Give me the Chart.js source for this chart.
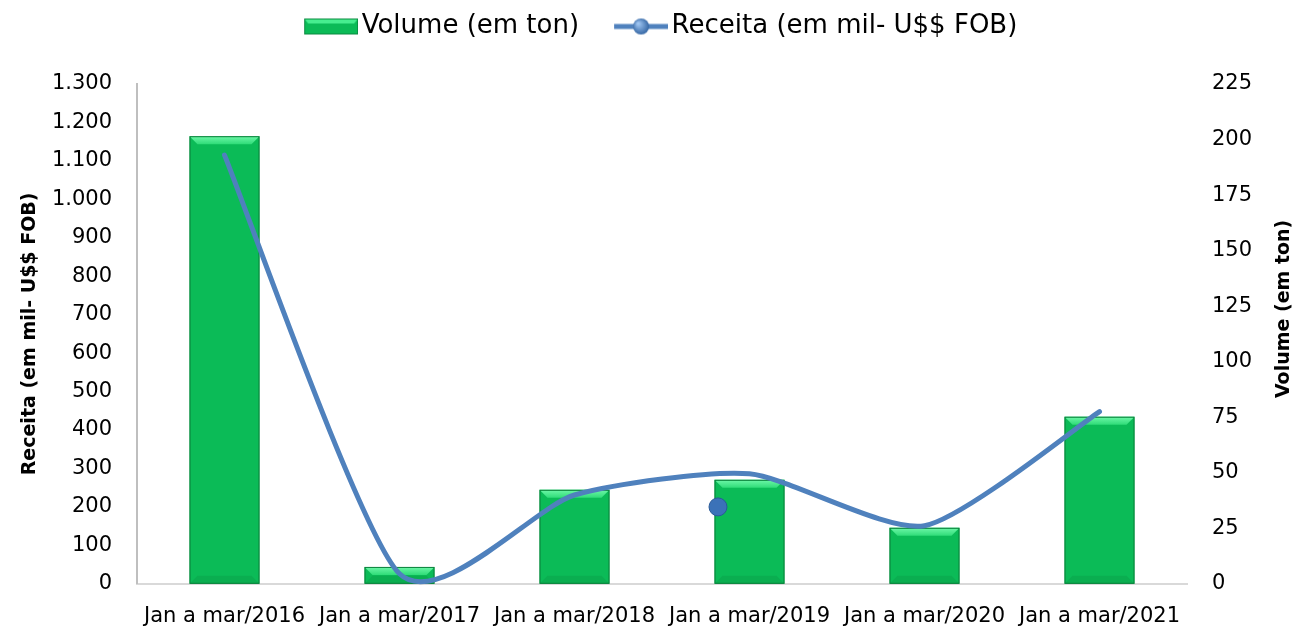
<!DOCTYPE html>
<html lang="pt-BR">
  <head>
    <meta charset="UTF-8" />
    <script src="https://cdn.jsdelivr.net/npm/chart.js"></script>
    <title>Volume e Receita - Jan a mar</title>
    <style>
      html,
      body {
        margin: 0;
        padding: 0;
        background: #ffffff;
      }
      .chart-container {
        width: 1298px;
        height: 627px;
      }
    </style>
  </head>
  <body>
    <div class="chart-container">
      <canvas id="volumeReceitaChart"></canvas>
    </div>

    <script>
      const categories = [
        "Jan a mar/2016",
        "Jan a mar/2017",
        "Jan a mar/2018",
        "Jan a mar/2019",
        "Jan a mar/2020",
        "Jan a mar/2021",
      ];
      const volumeTon = [201.5, 7.6, 42.3, 46.8, 25.2, 75.2];
      const receitaMil = [1115, 26, 231, 286, 151, 448];
      // the lone marker Excel left near the 2019 point (x = category index)
      const receitaMarker = [{ x: 2.82, y: 200 }];
      const receitaTicks = [0, 1300, 100];
      const volumeTicks = [0, 225, 25];
      const volumeTitle = "Volume (em ton)";

      const FONT = "'DejaVu Sans', sans-serif";
      const GREEN = "#0bbb57";
      const GREEN_LIGHT = "#46ee8f";
      const BLUE = "#4f81bd";

      // legend icon drawn on a small canvas, shifted right so the gap
      // between icon and text stays small like in excel
      function legendIcon(kind) {
        const c = document.createElement("canvas");
        c.width = 87;
        c.height = 22;
        const g = c.getContext("2d");
        const x0 = 33;
        if (kind === "bar") {
          g.fillStyle = GREEN;
          g.fillRect(x0, 3, 54, 16);
          g.fillStyle = GREEN_LIGHT;
          g.beginPath();
          g.moveTo(x0, 3);
          g.lineTo(x0 + 54, 3);
          g.lineTo(x0 + 50, 8);
          g.lineTo(x0 + 4, 8);
          g.closePath();
          g.fill();
          g.strokeStyle = "#0a8a40";
          g.lineWidth = 1;
          g.strokeRect(x0 + 0.5, 3.5, 53, 15);
        } else {
          g.strokeStyle = BLUE;
          g.lineWidth = 5;
          g.beginPath();
          g.moveTo(x0, 11);
          g.lineTo(x0 + 54, 11);
          g.stroke();
          const grad = g.createRadialGradient(x0 + 24, 8, 1, x0 + 27, 11, 9);
          grad.addColorStop(0, "#9cc3f0");
          grad.addColorStop(1, "#2c5f9e");
          g.fillStyle = grad;
          g.beginPath();
          g.arc(x0 + 27, 11, 8, 0, Math.PI * 2);
          g.fill();
        }
        return c;
      }

      const thousands = (v) =>
        String(v).replace(/\B(?=(\d{3})+(?!\d))/g, ".");

      // extra room under the legend
      const legendMargin = {
        id: "legendMargin",
        beforeInit(chart) {
          const fit = chart.legend.fit;
          chart.legend.fit = function () {
            fit.bind(chart.legend)();
            this.height += 34.5;
          };
        },
      };

      // excel style smoothing instead of chart.js spline
      const SMOOTH = 0.11;
      const excelSmooth = {
        id: "excelSmooth",
        beforeDatasetDraw(chart, args) {
          if (!chart.data.datasets[args.index].excelSmooth) return;
          const pts = args.meta.data;
          const n = pts.length;
          for (let i = 0; i < n; i++) {
            const prev = pts[Math.max(i - 1, 0)];
            const next = pts[Math.min(i + 1, n - 1)];
            const tx = (next.x - prev.x) * SMOOTH;
            const ty = (next.y - prev.y) * SMOOTH;
            pts[i].cp1x = pts[i].x - tx;
            pts[i].cp1y = pts[i].y - ty;
            pts[i].cp2x = pts[i].x + tx;
            pts[i].cp2y = pts[i].y + ty;
          }
          args.meta.dataset._pointsUpdated = true;
        },
      };

      // excel-like bevel on top and bottom of each bar
      const bevelPlugin = {
        id: "bevel",
        afterDatasetDraw(chart, args) {
          if (args.index !== 0) return;
          const ctx = chart.ctx;
          args.meta.data.forEach((bar) => {
            const w = bar.width;
            const left = bar.x - w / 2;
            const right = bar.x + w / 2;
            const top = bar.y;
            const bottom = bar.base;
            const b = Math.min(8, (bottom - top) / 2);
            ctx.save();
            const grad = ctx.createLinearGradient(0, top, 0, top + b);
            grad.addColorStop(0, "#6ef7a8");
            grad.addColorStop(1, "#2fdc78");
            ctx.fillStyle = grad;
            ctx.beginPath();
            ctx.moveTo(left, top);
            ctx.lineTo(right, top);
            ctx.lineTo(right - b, top + b);
            ctx.lineTo(left + b, top + b);
            ctx.closePath();
            ctx.fill();
            ctx.fillStyle = "#0aae50";
            ctx.beginPath();
            ctx.moveTo(left, bottom);
            ctx.lineTo(right, bottom);
            ctx.lineTo(right - b, bottom - b);
            ctx.lineTo(left + b, bottom - b);
            ctx.closePath();
            ctx.fill();
            ctx.strokeStyle = "#0a7f3a";
            ctx.lineWidth = 1;
            ctx.strokeRect(left + 0.5, top + 0.5, w - 1, bottom - top - 1);
            ctx.restore();
          });
        },
      };

      // right axis title reading bottom-to-top, as excel draws it
      const rightTitle = {
        id: "rightTitle",
        afterDraw(chart) {
          const scale = chart.scales.yVolume;
          const area = chart.chartArea;
          const ctx = chart.ctx;
          ctx.save();
          ctx.translate(scale.right - 14, (area.top + area.bottom) / 2 - 25);
          ctx.rotate(-Math.PI / 2);
          ctx.textAlign = "center";
          ctx.textBaseline = "middle";
          ctx.fillStyle = "#000000";
          ctx.font = "bold 19px " + FONT;
          ctx.fillText(volumeTitle, 0, 0);
          ctx.restore();
        },
      };

      const ctx = document
        .getElementById("volumeReceitaChart")
        .getContext("2d");

      new Chart(ctx, {
        type: "bar",
        data: {
          labels: categories,
          datasets: [
            {
              type: "bar",
              label: "Volume (em ton)",
              data: volumeTon,
              yAxisID: "yVolume",
              backgroundColor: GREEN,
              borderWidth: 0,
              grouped: false,
              categoryPercentage: 1,
              barPercentage: 0.4,
              order: 2,
            },
            {
              type: "line",
              label: "Receita (em mil- U$$ FOB)",
              data: receitaMil,
              yAxisID: "yReceita",
              borderColor: BLUE,
              borderWidth: 5,
              borderCapStyle: "round",
              pointRadius: 0,
              tension: 0.4,
              excelSmooth: true,
              clip: false,
              order: 1,
            },
            {
              type: "scatter",
              label: "marker",
              data: receitaMarker,
              parsing: false,
              xAxisID: "x",
              yAxisID: "yReceita",
              pointRadius: 9,
              pointBackgroundColor: "#3b72b8",
              pointBorderColor: "#2a5a98",
              pointBorderWidth: 1,
              order: 0,
            },
          ],
        },
        options: {
          responsive: true,
          maintainAspectRatio: false,
          animation: false,
          layout: { padding: { top: 2, left: 0, right: 0, bottom: -22 } },
          plugins: {
            tooltip: { enabled: false },
            legend: {
              position: "top",
              labels: {
                usePointStyle: true,
                pointStyleWidth: 68,
                boxHeight: 22,
                padding: 11.5,
                color: "#000000",
                font: { family: FONT, size: 26 },
                generateLabels: (chart) =>
                  chart.data.datasets
                    .filter((ds) => ds.label !== "marker")
                    .map((ds, i) => ({
                      text: ds.label,
                      pointStyle: legendIcon(i === 0 ? "bar" : "line"),
                      datasetIndex: i,
                      fillStyle: "transparent",
                      strokeStyle: "transparent",
                      lineWidth: 0,
                    })),
              },
            },
          },
          scales: {
            x: {
              offset: true,
              grid: { display: false, drawTicks: false },
              border: { display: true, color: "#d9d9d9", width: 2 },
              ticks: {
                color: "#000000",
                font: { family: FONT, size: 21 },
                padding: 20,
                maxRotation: 0,
                autoSkip: false,
              },
            },
            yReceita: {
              position: "left",
              min: receitaTicks[0],
              max: receitaTicks[1],
              grid: { display: false, drawTicks: false },
              border: { display: true, color: "#bfbfbf", width: 2 },
              ticks: {
                stepSize: receitaTicks[2],
                color: "#000000",
                font: { family: FONT, size: 21 },
                padding: 25,
                callback: (v) => thousands(v),
              },
              title: {
                display: true,
                text: "Receita (em mil- U$$ FOB)",
                color: "#000000",
                font: { family: FONT, size: 19, weight: "bold" },
                padding: { top: 19, bottom: 0 },
              },
              afterFit: (scale) => {
                scale.width = 137;
              },
            },
            yVolume: {
              position: "right",
              min: volumeTicks[0],
              max: volumeTicks[1],
              grid: { display: false, drawTicks: false },
              border: { display: false },
              ticks: {
                stepSize: volumeTicks[2],
                color: "#000000",
                font: { family: FONT, size: 21 },
                padding: 25,
              },
              afterFit: (scale) => {
                scale.width = 111;
              },
            },
          },
        },
        plugins: [legendMargin, excelSmooth, bevelPlugin, rightTitle],
      });
    </script>
  </body>
</html>
